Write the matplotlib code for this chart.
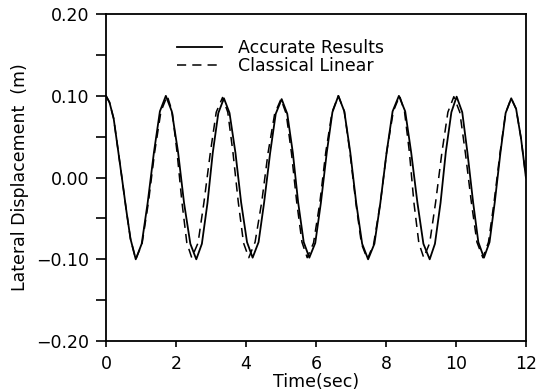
import matplotlib
matplotlib.use("Agg")
import matplotlib.pyplot as plt

# Accurate Results (solid)
t_accurate = [0.00, 0.10, 0.22, 0.34, 0.46, 0.58, 0.70, 0.85,
              1.02, 1.19, 1.37, 1.54, 1.71,
              1.88, 2.06, 2.23, 2.41, 2.58,
              2.74, 2.90, 3.05, 3.21, 3.37,
              3.53, 3.70, 3.86, 4.03, 4.19,
              4.36, 4.52, 4.69, 4.85, 5.02,
              5.18, 5.34, 5.49, 5.65, 5.81,
              5.98, 6.14, 6.31, 6.47, 6.64,
              6.81, 6.98, 7.15, 7.32, 7.49,
              7.67, 7.84, 8.02, 8.19, 8.37,
              8.55, 8.72, 8.90, 9.07, 9.25,
              9.40, 9.56, 9.71, 9.87, 10.02,
              10.18, 10.33, 10.49, 10.64, 10.80,
              10.96, 11.11, 11.27, 11.42, 11.58,
              11.72, 11.86, 12.00]
y_accurate = [0.100, 0.092, 0.072, 0.035, -0.002, -0.040, -0.075, -0.100,
              -0.081, -0.031, 0.031, 0.081, 0.100,
              0.081, 0.031, -0.031, -0.081, -0.100,
              -0.081, -0.031, 0.030, 0.079, 0.097,
              0.079, 0.030, -0.030, -0.079, -0.098,
              -0.079, -0.030, 0.030, 0.078, 0.096,
              0.078, 0.030, -0.030, -0.079, -0.098,
              -0.080, -0.031, 0.031, 0.080, 0.100,
              0.081, 0.031, -0.031, -0.081, -0.100,
              -0.081, -0.031, 0.031, 0.081, 0.100,
              0.081, 0.031, -0.031, -0.081, -0.100,
              -0.081, -0.031, 0.031, 0.080, 0.099,
              0.080, 0.030, -0.030, -0.079, -0.098,
              -0.079, -0.030, 0.030, 0.079, 0.097,
              0.084, 0.048, 0.000]

# Classical Linear (dashed)
t_linear = [0.00, 0.10, 0.22, 0.34, 0.46, 0.58, 0.70, 0.85,
            1.03, 1.21, 1.39, 1.57, 1.75,
            1.89, 2.03, 2.17, 2.31, 2.45,
            2.63, 2.80, 2.98, 3.15, 3.33,
            3.48, 3.63, 3.78, 3.93, 4.08,
            4.26, 4.45, 4.63, 4.82, 5.00,
            5.15, 5.30, 5.45, 5.60, 5.75,
            5.93, 6.11, 6.28, 6.46, 6.64,
            6.81, 6.97, 7.14, 7.30, 7.47,
            7.65, 7.84, 8.02, 8.21, 8.39,
            8.53, 8.67, 8.80, 8.94, 9.08,
            9.25, 9.42, 9.60, 9.77, 9.94,
            10.11, 10.27, 10.44, 10.60, 10.77,
            10.93, 11.09, 11.26, 11.42, 11.58,
            11.72, 11.86, 12.00]
y_linear = [0.100, 0.092, 0.072, 0.035, -0.002, -0.040, -0.075, -0.100,
            -0.081, -0.031, 0.031, 0.081, 0.100,
            0.081, 0.031, -0.030, -0.080, -0.098,
            -0.080, -0.030, 0.030, 0.080, 0.098,
            0.080, 0.030, -0.030, -0.080, -0.098,
            -0.079, -0.030, 0.030, 0.078, 0.096,
            0.078, 0.030, -0.030, -0.079, -0.098,
            -0.080, -0.031, 0.031, 0.080, 0.100,
            0.081, 0.031, -0.031, -0.081, -0.100,
            -0.081, -0.031, 0.031, 0.081, 0.100,
            0.081, 0.031, -0.031, -0.080, -0.098,
            -0.080, -0.030, 0.031, 0.080, 0.099,
            0.080, 0.030, -0.030, -0.079, -0.098,
            -0.079, -0.030, 0.030, 0.079, 0.097,
            0.084, 0.048, 0.000]

x_ticks = [0, 2, 4, 6, 8, 10, 12]
y_ticks = [-0.20, -0.10, 0.00, 0.10, 0.20]
y_minor = [-0.15, -0.05, 0.05, 0.15]

plt.rcParams['font.family'] = ['DejaVu Sans']
fig = plt.figure(figsize=(5.45, 3.92), dpi=100)
ax = fig.add_axes([0.1945, 0.130, 0.7705, 0.834])

ax.plot(t_accurate, y_accurate, color='black', lw=1.3, label='Accurate Results')
ax.plot(t_linear, y_linear, color='black', lw=1.1, dashes=(6, 4), label='Classical Linear')

ax.set_xlim(0, 12)
ax.set_ylim(-0.20, 0.20)
ax.set_xticks(x_ticks)
ax.set_xticklabels([str(v) for v in x_ticks])
ax.set_yticks(y_ticks)
ax.set_yticklabels(['%.2f' % v if v >= 0 else '\u22120.%02d' % round(abs(v) * 100) for v in y_ticks])
ax.set_yticks(y_minor, minor=True)
ax.tick_params(axis='x', direction='out', length=4, width=1.2, pad=6, labelsize=12.5)
ax.tick_params(axis='y', which='both', direction='out', length=7, width=1.2, pad=5, labelsize=12.5)
for s in ax.spines.values():
    s.set_linewidth(1.3)

ax.set_xlabel('Time(sec)', fontsize=12.5, labelpad=0)
ax.set_ylabel('Lateral Displacement  (m)', fontsize=12.5, labelpad=5)

ax.legend(loc='upper left', bbox_to_anchor=(0.169, 0.925), frameon=False, fontsize=12.5,
          handlelength=2.6, handletextpad=0.9, labelspacing=0.0, borderpad=0, borderaxespad=0)

fig.savefig('out.png', dpi=100)
